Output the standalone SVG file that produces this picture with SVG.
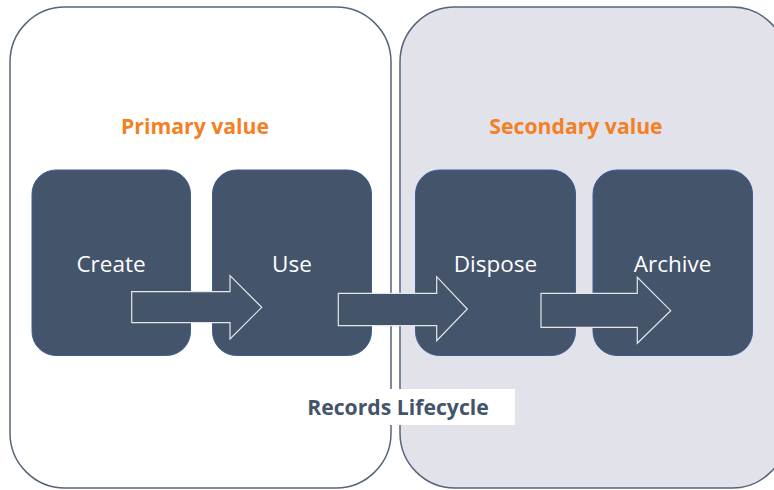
<svg xmlns="http://www.w3.org/2000/svg" width="774" height="490" viewBox="0 0 774 490">
  <style>
    .panel { stroke: #56657c; stroke-width: 1.5; }
    .step { fill: #44546a; stroke: #3d5d94; stroke-width: 1; }
    .step-label { font-family: "Open Sans", "Liberation Sans", sans-serif; font-size: 22.5px; fill: #ffffff; text-anchor: middle; }
    .phase { font-family: "Open Sans", "Liberation Sans", sans-serif; font-size: 21.2px; font-weight: bold; fill: #f47f24; text-anchor: middle; }
    .title { font-family: "Open Sans", "Liberation Sans", sans-serif; font-size: 21.2px; font-weight: bold; fill: #44546a; text-anchor: middle; }
    .flow { fill: #44546a; stroke: #e6e6e6; stroke-width: 1.2; stroke-linejoin: miter; }
  </style>

  <rect width="774" height="490" fill="#ffffff"/>

  <!-- value phases -->
  <g id="primary-phase">
    <rect class="panel" x="10" y="7" width="381" height="481" rx="55" ry="55" fill="#ffffff"/>
    <text class="phase" x="195" y="134">Primary value</text>
  </g>
  <g id="secondary-phase">
    <rect class="panel" x="400" y="7" width="387" height="481" rx="55" ry="55" fill="#e1e2ea"/>
    <text class="phase" x="576" y="134">Secondary value</text>
  </g>

  <!-- lifecycle steps -->
  <g id="create">
    <rect class="step" x="32" y="170" width="158.5" height="185.5" rx="24" ry="24"/>
    <text class="step-label" x="111" y="272">Create</text>
  </g>
  <g id="use">
    <rect class="step" x="212.5" y="170" width="159" height="185.5" rx="24" ry="24"/>
    <text class="step-label" x="292" y="272">Use</text>
  </g>
  <g id="dispose">
    <rect class="step" x="415.5" y="170" width="160" height="185.5" rx="24" ry="24"/>
    <text class="step-label" x="495.5" y="272">Dispose</text>
  </g>
  <g id="archive">
    <rect class="step" x="593" y="170" width="159.5" height="185.5" rx="24" ry="24"/>
    <text class="step-label" x="672.5" y="272">Archive</text>
  </g>

  <!-- block arrows between steps -->
  <g id="connectors">
    <polygon class="flow" points="131.7,291.7 230,291.7 230,275.7 261.7,307.3 230,339 230,322.7 131.7,322.7"/>
    <polygon class="flow" points="338.3,293.3 436.7,293.3 436.7,276.7 467.3,309 436.7,340.7 436.7,325.7 338.3,325.7"/>
    <polygon class="flow" points="541,293.3 637.3,293.3 637.3,277.3 670.7,310.7 637.3,343.3 637.3,327.3 541,327.3"/>
  </g>

  <!-- caption -->
  <g id="caption">
    <rect x="317" y="389" width="198" height="36" fill="#ffffff"/>
    <text class="title" x="398" y="415">Records Lifecycle</text>
  </g>
</svg>
